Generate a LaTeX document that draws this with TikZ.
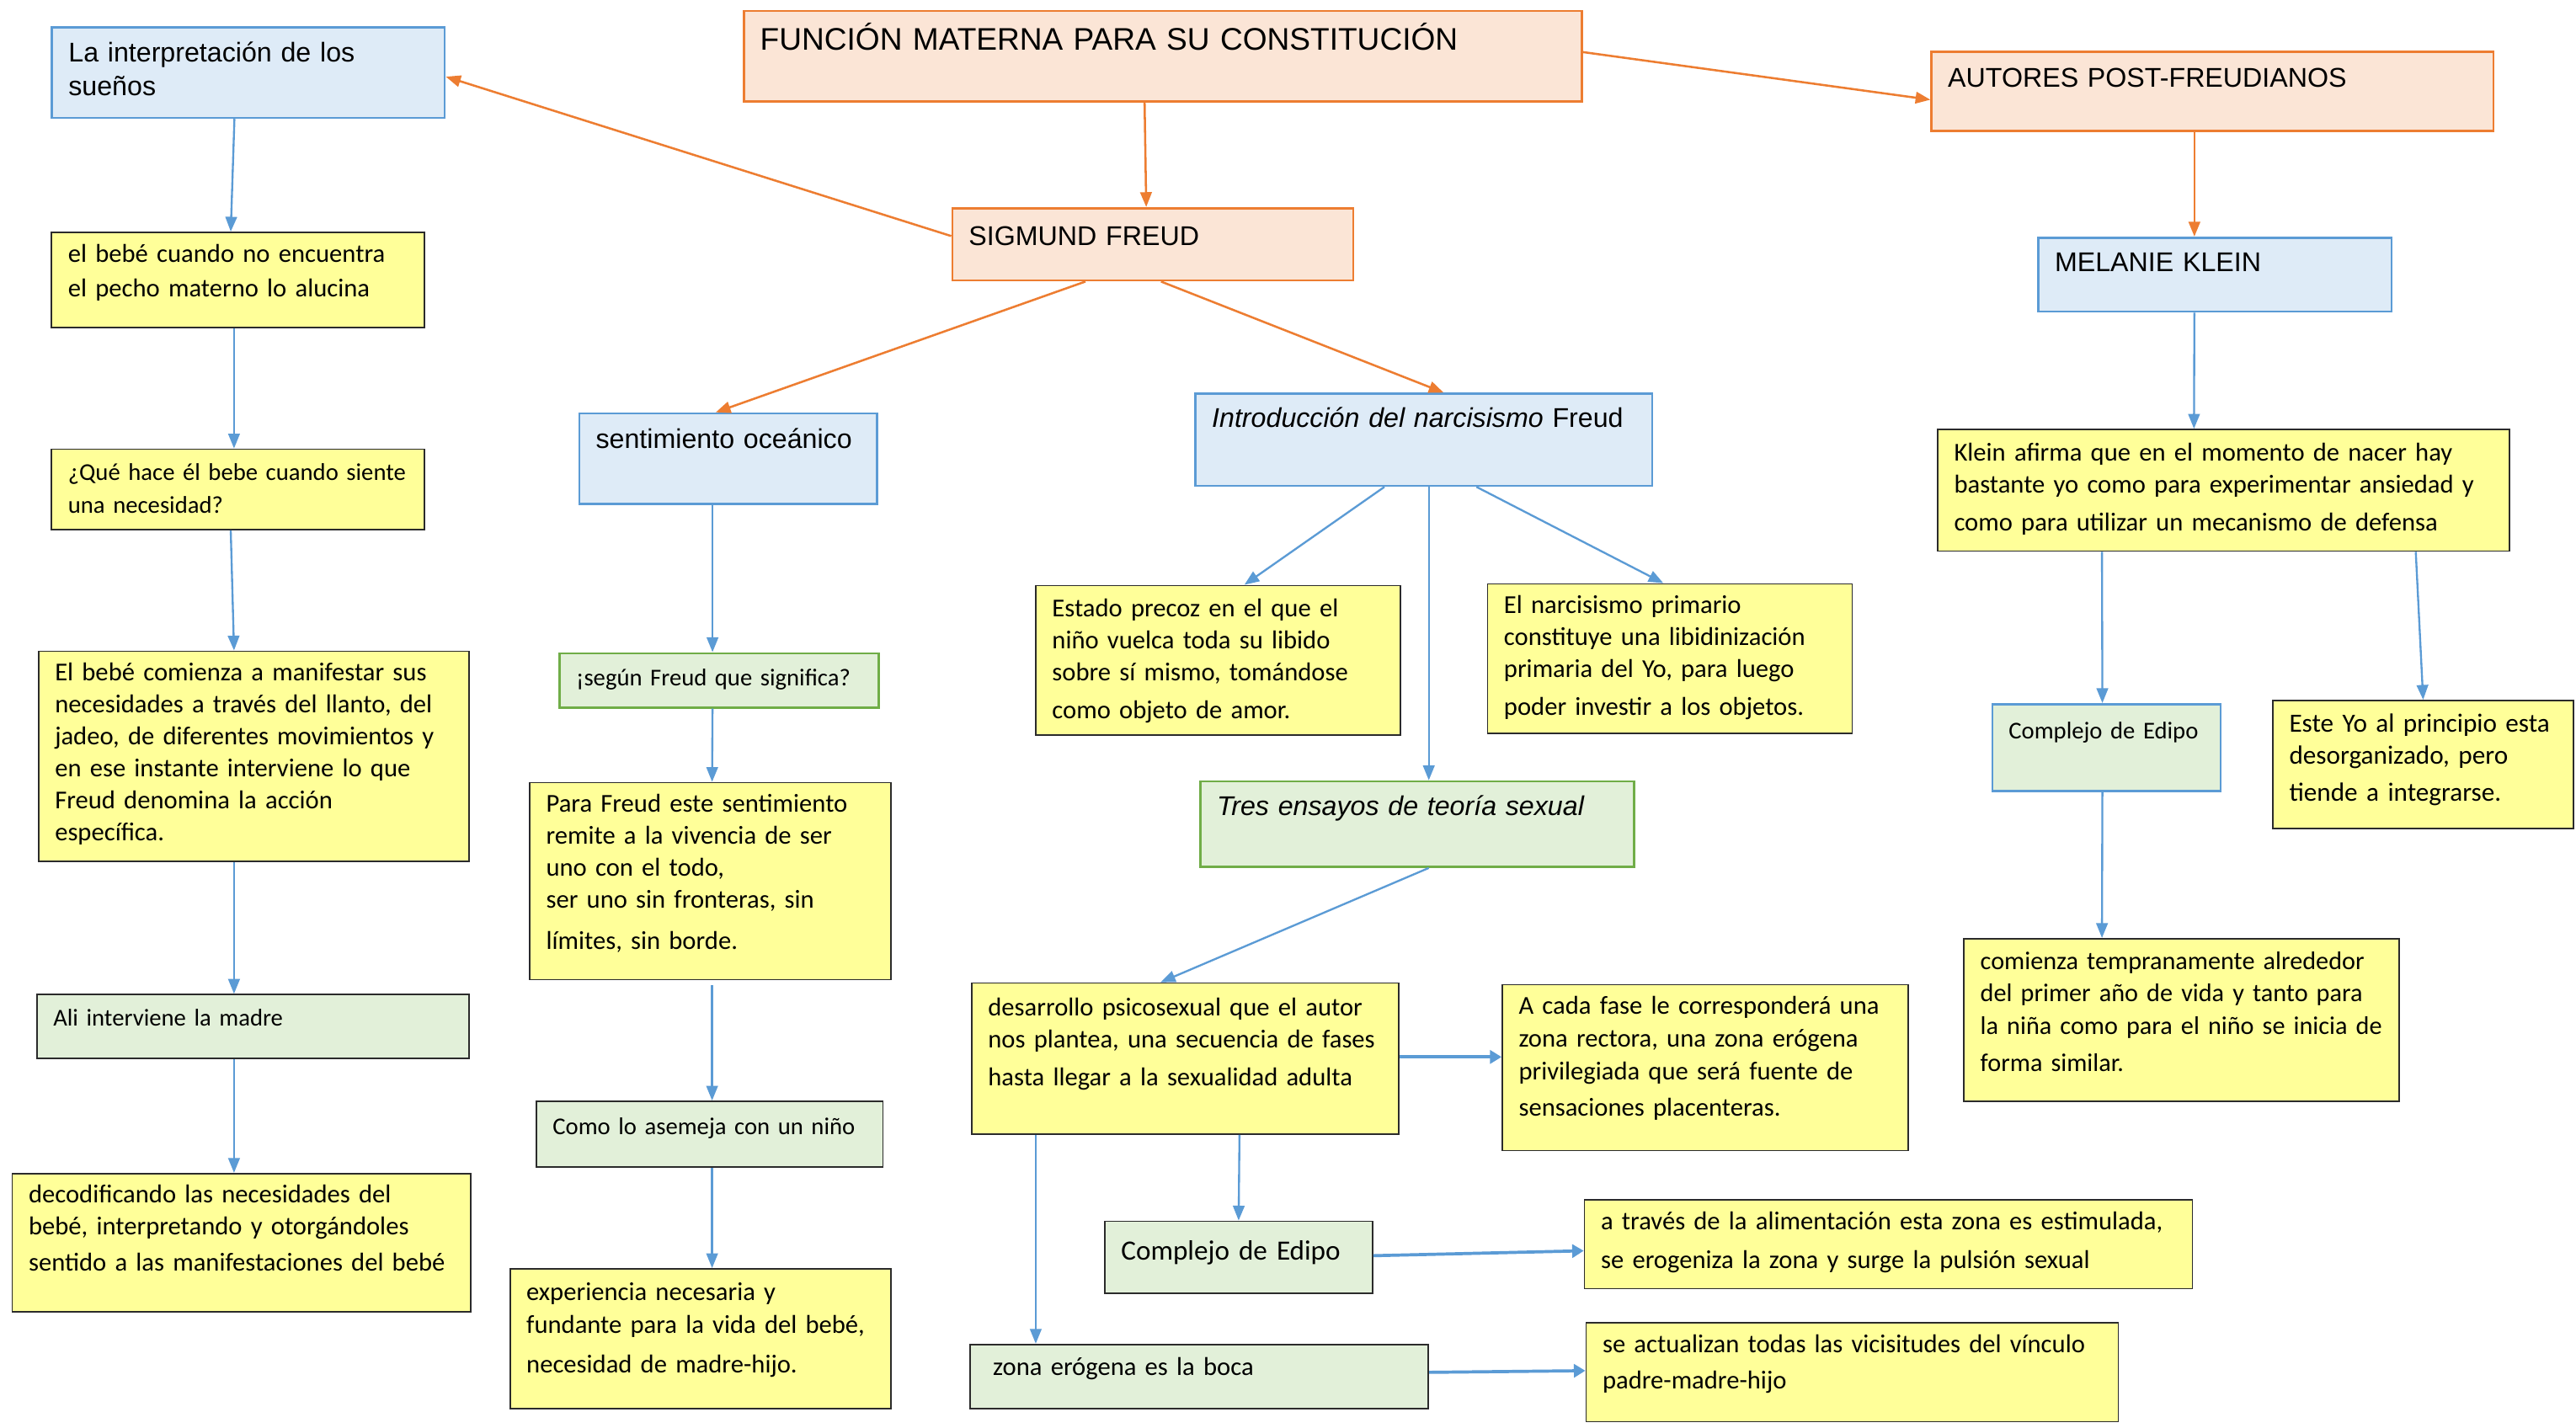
\documentclass[tikz,border=0pt]{standalone}
\usepackage{fontspec}
\setmainfont{Carlito}
\newfontfamily\arialfont{Liberation Sans}
\newfontfamily\gillfont{Carlito}
\usepackage{tikz}
\usetikzlibrary{arrows.meta}
\usepackage{xcolor}
\definecolor{MapOrange}{HTML}{ED7D31}
\definecolor{MapPeach}{HTML}{FBE5D6}
\definecolor{MapBlue}{HTML}{5B9BD5}
\definecolor{MapSky}{HTML}{DEEBF7}
\definecolor{MapYellow}{HTML}{FFFF99}
\definecolor{MapGreen}{HTML}{70AD47}
\definecolor{MapMint}{HTML}{E2F0D9}
\definecolor{MapEdge}{HTML}{2B2B2B}

\tikzset{
  concept/.style={draw, anchor=north west, align=left, inner xsep=10pt, inner ysep=0pt},
  sized/.style n args={3}{text width=#1pt, text height=#2pt, text depth=#3pt},
  headbox/.style={concept, draw=MapOrange, fill=MapPeach, line width=1.4pt},
  topicbox/.style={concept, draw=MapBlue, fill=MapSky, line width=1.4pt},
  notebox/.style={concept, draw=MapEdge, fill=MapYellow, line width=0.9pt},
  stepnote/.style={concept, draw=MapEdge, fill=MapMint, line width=0.9pt},
  worknote/.style={concept, draw=MapGreen, fill=MapMint, line width=1.4pt},
  arialtxt/.style={font=\arialfont\fontsize{16.5}{20.5}\selectfont},
  gilltxt/.style={font=\gillfont\fontsize{15.7}{19.5}\selectfont},
  calitxt/.style={font=\gillfont\fontsize{14.7}{20}\selectfont},
  linkO/.style={draw=MapOrange, line width=1.3pt, -{Triangle[length=9pt,width=7pt]}},
  linkB/.style={draw=MapBlue, line width=1.2pt, -{Triangle[length=9pt,width=7pt]}},
  linkBB/.style={draw=MapBlue, line width=1.9pt, -{Triangle[length=7pt,width=8pt]}}
}

\begin{document}
\begin{tikzpicture}[x=1pt,y=-1pt]
    \fill[white] (0,0) rectangle (1568,869);
    \useasboundingbox (0,0) rectangle (1568,869);

    % headings
    \node[headbox, font=\arialfont\fontsize{19}{23}\selectfont, sized={490}{24}{31}] (fn) at (452,6) {FUNCIÓN MATERNA PARA SU CONSTITUCIÓN};
    \node[headbox, arialtxt, sized={224}{22.5}{21.5}] (sf) at (579,126) {SIGMUND FREUD};
    \node[headbox, arialtxt, sized={322}{21.5}{26.5}] (ap) at (1175,31) {AUTORES POST-FREUDIANOS};
    \node[topicbox, arialtxt, sized={195}{20.5}{24.5}] (mk) at (1240,144) {MELANIE KLEIN};
    \node[topicbox, arialtxt, sized={219}{21}{34}] (li) at (31,16) {La interpretación de los\\ sueños};
    \node[topicbox, arialtxt, sized={161}{21.5}{33.5}] (so) at (352,251) {sentimiento oceánico};
    \node[topicbox, arialtxt, sized={258}{20.5}{35.5}] (in) at (727,239) {\textit{Introducción del narcisismo} Freud};
    \node[worknote, arialtxt, sized={244}{20.5}{31.5}] (te) at (730,475) {\textit{Tres ensayos de teoría sexual}};

    % left column
    \node[notebox, gilltxt, sized={207}{18}{40}] (eb) at (31,141) {el bebé cuando no encuentra\\[1.5pt] el pecho materno lo alucina};
    \node[notebox, calitxt, inner xsep=8pt, sized={211}{19}{30}] (qh) at (31,273) {\hspace*{2pt}¿Qué hace él bebe cuando siente\\ \hspace*{2pt}una necesidad?};
    \node[notebox, gilltxt, sized={242}{18}{110}] (bc) at (23,396) {El bebé comienza a manifestar sus\\ necesidades a través del llanto, del\\ jadeo, de diferentes movimientos y\\ en ese instante interviene lo que\\ Freud denomina la acción\\ específica.};
    \node[stepnote, calitxt, sized={243}{19}{20}] (am) at (22,605) {Ali interviene la madre};
    \node[notebox, gilltxt, sized={259}{18}{66}] (de) at (7,714) {decodificando las necesidades del\\ bebé, interpretando y otorgándoles\\[2.5pt] sentido a las manifestaciones del bebé};

    % second column
    \node[worknote, calitxt, sized={174}{20}{13}] (sg) at (340,397) {¡según Freud que significa?};
    \node[notebox, gilltxt, sized={200}{18}{102}] (pf) at (322,476) {Para Freud este sentimiento\\ remite a la vivencia de ser\\ uno con el todo,\\ ser uno sin fronteras, sin\\[5.5pt] límites, sin borde.};
    \node[stepnote, calitxt, sized={191}{20}{20}] (cn) at (326,670) {Como lo asemeja con un niño};
    \node[notebox, gilltxt, sized={212}{19}{66}] (ex) at (310,772) {experiencia necesaria y\\[0.5pt] fundante para la vida del bebé,\\[5pt] necesidad de madre-hijo.};

    % narcisismo and sexual theory
    \node[notebox, gilltxt, sized={202}{19}{72}] (ep) at (630,356) {Estado precoz en el que el\\ niño vuelca toda su libido\\ sobre sí mismo, tomándose\\[3.5pt] como objeto de amor.};
    \node[notebox, gilltxt, sized={202}{18}{73}] (np) at (905,355) {El narcisismo primario\\ constituye una libidinización\\ primaria del Yo, para luego\\[3.5pt] poder investir a los objetos.};
    \node[notebox, gilltxt, sized={240}{20}{72}] (dp) at (591,598) {desarrollo psicosexual que el autor\\ nos plantea, una secuencia de fases\\[3.5pt] hasta llegar a la sexualidad adulta};
    \node[notebox, gilltxt, sized={227}{18}{83}] (cf) at (914,599) {A cada fase le corresponderá una\\[0.5pt] zona rectora, una zona erógena\\[0.5pt] privilegiada que será fuente de\\[2.5pt] sensaciones placenteras.};
    \node[stepnote, font=\gillfont\fontsize{17}{20}\selectfont, sized={143}{23.5}{20.5}] (ce) at (672,743) {Complejo de Edipo};
    \node[notebox, gilltxt, sized={350}{18}{36}] (at) at (964,730) {a través de la alimentación esta zona es estimulada,\\[4.5pt] se erogeniza la zona y surge la pulsión sexual};
    \node[stepnote, gilltxt, inner xsep=14pt, sized={251}{19}{20}] (zb) at (590,818) {zona erógena es la boca};
    \node[notebox, gilltxt, sized={304}{18}{42}] (sa) at (965,805) {se actualizan todas las vicisitudes del vínculo\\[2.5pt] padre-madre-hijo};

    % Klein
    \node[notebox, gilltxt, sized={328}{19}{55}] (ka) at (1179,261) {Klein afirma que en el momento de nacer hay\\ bastante yo como para experimentar ansiedad y\\[3.5pt] como para utilizar un mecanismo de defensa};
    \node[concept, draw=MapBlue, fill=MapMint, line width=1.4pt, calitxt, sized={119}{21}{32}] (cr) at (1212,428) {Complejo de Edipo};
    \node[notebox, font=\gillfont\fontsize{16}{19.5}\selectfont, inner xsep=7pt, sized={169}{19}{59}] (ey) at (1383,426) {\hspace*{3pt}Este Yo al principio esta\\ \hspace*{3pt}desorganizado, pero\\[3.5pt] \hspace*{3pt}tiende a integrarse.};
    \node[notebox, font=\gillfont\fontsize{15.5}{19.5}\selectfont, sized={245}{19}{80}] (ct) at (1195,571) {comienza tempranamente alrededor\\ del primer año de vida y tanto para\\ la niña como para el niño se inicia de\\[3.5pt] forma similar.};

    % orange links
    \draw[linkO] ([xshift=-11pt]fn.south) -- ([xshift=-4pt]sf.north);
    \draw[linkO] ([yshift=5pt]sf.west) -- ([yshift=-2.5pt]li.east);
    \draw[linkO] ([yshift=2.5pt]fn.east) -- ([yshift=-5pt]ap.west);
    \draw[linkO] ([xshift=-41pt]sf.south) -- ([xshift=-7.5pt]so.north);
    \draw[linkO] ([xshift=5pt]sf.south) -- ([xshift=12pt]in.north);
    \draw[linkO] ([xshift=-11pt]ap.south) -- ([xshift=-12.5pt]mk.north);

    % blue links, south to north
    \foreach \a/\sa/\b/\sb in
    {li/-8.5/eb/-4.5, eb/-2.5/qh/-2.5, qh/-4.5/bc/-12, bc/-12/am/-11.5, am/-11.5/de/-4.5,
     so/-9.5/sg/-4, sg/-4/pf/1, cn/1.5/ex/7,
     in/-24/ep/16, in/32/np/-4, in/3/te/7, te/7/dp/-15, dp/33/ce/0, dp/-91/zb/-99.5,
     mk/-12.5/ka/-18, ka/-74/cr/-2.5, ka/117/ey/0, cr/-2.5/ct/-48.5} {
     \draw[linkB] ([xshift=\sa pt]\a.south) -- ([xshift=\sb pt]\b.north);
    }
    \draw[linkB] ([xshift=1pt,yshift=-3pt]pf.south) -- ([xshift=1.5pt]cn.north);

    % blue links, to the right
    \draw[linkBB] ([yshift=1pt]dp.east) -- ([yshift=6.5pt]cf.west);
    \draw[linkBB] ([yshift=1pt]ce.east) -- ([yshift=-4pt]at.west);
    \draw[linkBB] ([yshift=2.5pt]zb.east) -- ([yshift=1pt]sa.west);
\end{tikzpicture}
\end{document}
